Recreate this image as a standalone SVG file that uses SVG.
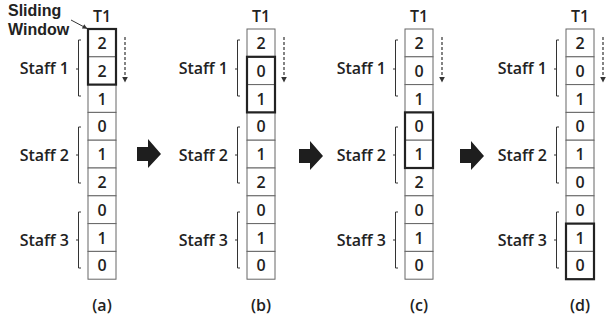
<svg xmlns="http://www.w3.org/2000/svg" width="607" height="322" viewBox="0 0 607 322">
<defs>
<style>
.t{font-family:"Open Sans","Liberation Sans",sans-serif;font-weight:600;font-size:16px;fill:#222}
.sw{font-family:"Liberation Sans",Arial,sans-serif;font-weight:700;font-size:16px;fill:#222}
.c{text-anchor:middle}
.e{text-anchor:end}
.cell{fill:#fff;stroke:#666;stroke-width:1}
.win{fill:none;stroke:#222;stroke-width:2.2}
.br{fill:none;stroke:#333;stroke-width:1}
.dash{stroke:#333;stroke-width:1.2;stroke-dasharray:3 2;fill:none}
.big{fill:#1e1e1e}
</style>
<marker id="ah" viewBox="0 0 10 10" refX="9" refY="5" markerWidth="5" markerHeight="5" orient="auto">
<path d="M0,0 L10,5 L0,10 Z" fill="#333"/>
</marker>
<g id="col">
<rect class="cell" x="0" y="0" width="28" height="27.8"/>
<rect class="cell" x="0" y="27.8" width="28" height="27.8"/>
<rect class="cell" x="0" y="55.6" width="28" height="27.8"/>
<rect class="cell" x="0" y="83.4" width="28" height="27.8"/>
<rect class="cell" x="0" y="111.2" width="28" height="27.8"/>
<rect class="cell" x="0" y="139" width="28" height="27.8"/>
<rect class="cell" x="0" y="166.8" width="28" height="27.8"/>
<rect class="cell" x="0" y="194.6" width="28" height="27.8"/>
<rect class="cell" x="0" y="222.4" width="28" height="27.8"/>
<path class="br" d="M-7,11 H-9.5 V67 H-7 M-12,40 H-9.5 M-7,98 H-9.5 V154 H-7 M-12,126 H-9.5 M-7,183 H-9.5 V239 H-7 M-12,211 H-9.5"/>
<text class="t e" x="-19" y="45">Staff 1</text>
<text class="t e" x="-19" y="132">Staff 2</text>
<text class="t e" x="-19" y="217">Staff 3</text>
<text class="t c" x="14" y="-7">T1</text>
</g>
</defs>

<g id="panel-a" transform="translate(88,29)">
<use href="#col"/>
<g class="t c">
<text x="14" y="20">2</text><text x="14" y="47.8">2</text><text x="14" y="75.6">1</text>
<text x="14" y="103.4">0</text><text x="14" y="131.2">1</text><text x="14" y="159">2</text>
<text x="14" y="186.8">0</text><text x="14" y="214.6">1</text><text x="14" y="242.4">0</text>
</g>
<rect class="win" x="0" y="0" width="28" height="55.6"/>
<line class="dash" x1="37" y1="8" x2="37" y2="53" marker-end="url(#ah)"/>
<text class="t c" x="14" y="282">(a)</text>
</g>

<g id="sliding-window-label">
<text class="sw" x="8" y="16">Sliding</text>
<text class="sw" x="8" y="35">Window</text>
<line x1="71" y1="20" x2="87" y2="28.5" stroke="#333" stroke-width="1" marker-end="url(#ah)"/>
</g>

<g id="panel-b" transform="translate(247,29)">
<use href="#col"/>
<g class="t c">
<text x="14" y="20">2</text><text x="14" y="47.8">0</text><text x="14" y="75.6">1</text>
<text x="14" y="103.4">0</text><text x="14" y="131.2">1</text><text x="14" y="159">2</text>
<text x="14" y="186.8">0</text><text x="14" y="214.6">1</text><text x="14" y="242.4">0</text>
</g>
<rect class="win" x="0" y="27.8" width="28" height="55.6"/>
<line class="dash" x1="37" y1="8" x2="37" y2="53" marker-end="url(#ah)"/>
<text class="t c" x="14" y="282">(b)</text>
</g>

<g id="panel-c" transform="translate(405,29)">
<use href="#col"/>
<g class="t c">
<text x="14" y="20">2</text><text x="14" y="47.8">0</text><text x="14" y="75.6">1</text>
<text x="14" y="103.4">0</text><text x="14" y="131.2">1</text><text x="14" y="159">2</text>
<text x="14" y="186.8">0</text><text x="14" y="214.6">1</text><text x="14" y="242.4">0</text>
</g>
<rect class="win" x="0" y="83.4" width="28" height="55.6"/>
<line class="dash" x1="37" y1="8" x2="37" y2="53" marker-end="url(#ah)"/>
<text class="t c" x="14" y="282">(c)</text>
</g>

<g id="panel-d" transform="translate(566,29)">
<use href="#col"/>
<g class="t c">
<text x="14" y="20">2</text><text x="14" y="47.8">0</text><text x="14" y="75.6">1</text>
<text x="14" y="103.4">0</text><text x="14" y="131.2">1</text><text x="14" y="159">0</text>
<text x="14" y="186.8">0</text><text x="14" y="214.6">1</text><text x="14" y="242.4">0</text>
</g>
<rect class="win" x="0" y="194.6" width="28" height="55.6"/>
<line class="dash" x1="37" y1="8" x2="37" y2="53" marker-end="url(#ah)"/>
<text class="t c" x="14" y="282">(d)</text>
</g>

<g id="connectors">
<path class="big" transform="translate(137,154)" d="M0,-7 H11 V-15 L24,0 L11,14 V7 H0 Z"/>
<path class="big" transform="translate(299,156)" d="M0,-7 H11 V-15 L24,0 L11,14 V7 H0 Z"/>
<path class="big" transform="translate(460,156)" d="M0,-7 H11 V-15 L24,0 L11,14 V7 H0 Z"/>
</g>
</svg>
